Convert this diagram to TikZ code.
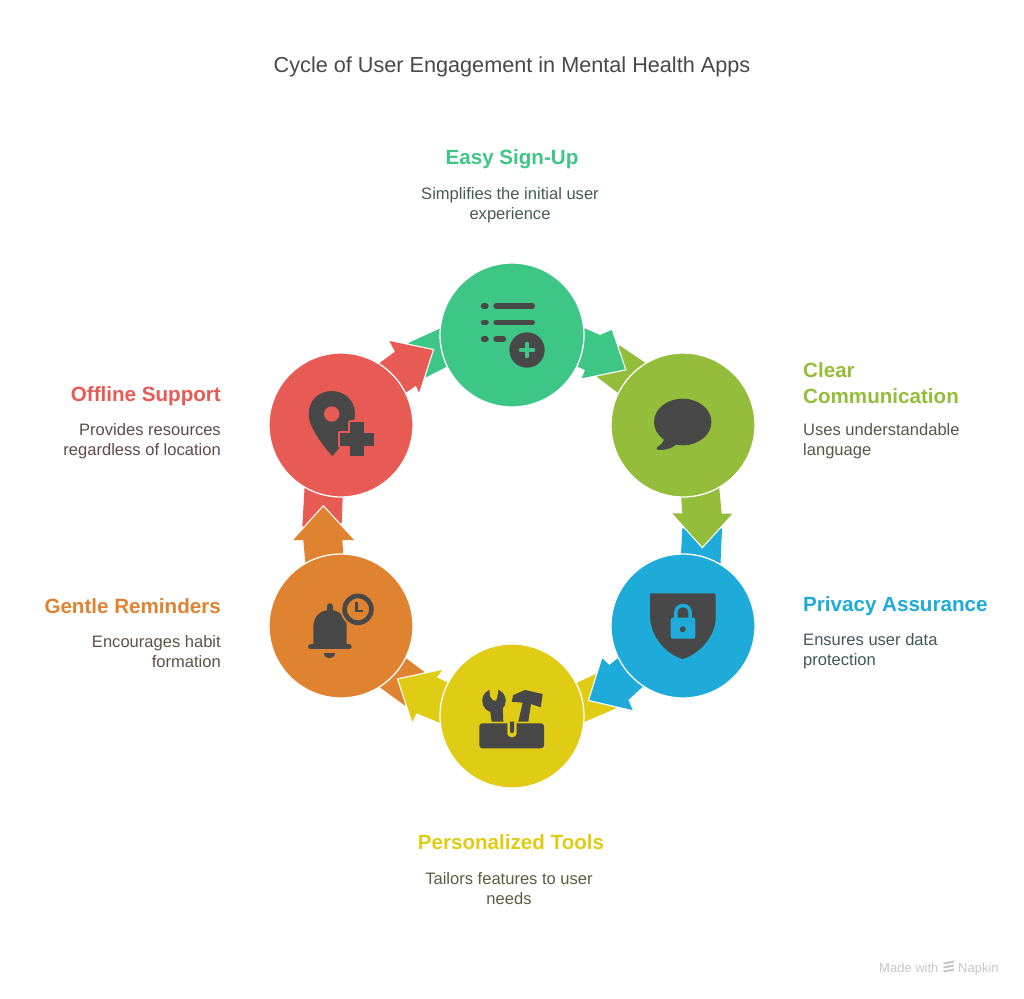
\documentclass[tikz,border=0pt]{standalone}
\usepackage{fontspec}
\setmainfont{Liberation Sans}
\usetikzlibrary{shapes.geometric, positioning}

\definecolor{signupgreen}{HTML}{3EC686}
\definecolor{clearolive}{HTML}{93BD3A}
\definecolor{privacyblue}{HTML}{1EABDA}
\definecolor{toolyellow}{HTML}{E0CB15}
\definecolor{reminderorange}{HTML}{E08330}
\definecolor{offlinered}{HTML}{E85A54}
\definecolor{icondark}{HTML}{484848}

\begin{document}
\begin{tikzpicture}[
    x=1pt, y=-1pt,
    stage/.style={circle, draw=white, line width=1.3pt, inner sep=0pt, minimum size=144pt},
    headshape/.style={preaction={draw=white, line width=2.4pt}},
    heading/.style={font=\bfseries\fontsize{20.6}{26}\selectfont, align=center},
    bodytext/.style={font=\fontsize{16.55}{20}\selectfont, align=center},
    titletext/.style={font=\fontsize{21.65}{26}\selectfont, text=icondark},
    credit/.style={font=\fontsize{13}{14}\selectfont, text=black!22, inner sep=0pt}
  ]

  \useasboundingbox[fill=white] (0,0) rectangle (1024,998);

  \node[titletext] (main_title) at (512,67.2) {Cycle of User Engagement in Mental Health Apps};

  % Band tails
  \fill[signupgreen] (408.3,343) -- (450,324) -- (456,362) -- (426,377.3) -- cycle;
  \fill[clearolive] (620,345.7) -- (650,366) -- (622,396) -- (596.7,376.7) -- cycle;
  \fill[privacyblue] (682.3,528.3) -- (680,575) -- (720,575) -- (722,528.3) -- cycle;
  \fill[toolyellow] (595.7,674) -- (570,686) -- (575,726) -- (616,708.3) -- cycle;
  \fill[reminderorange] (395,650) -- (424,671.7) -- (405,705.7) -- (370,680) -- cycle;
  \fill[offlinered] (305,480) -- (343.3,480) -- (341.7,523.3) -- (302.3,526.7) -- cycle;

  % Arrow heads
  \fill[headshape, signupgreen] (570,322) -- (600,335) -- (611.7,330) -- (625,369.3) -- (581.7,378.3) -- (585,370) -- (565,361) -- cycle;
  \fill[headshape, clearolive] (718,475) -- (721.7,513.7) -- (732.3,513.7) -- (702.3,546.7) -- (672.3,513.3) -- (682.3,513.3) -- (680,480) -- cycle;
  \fill[headshape, privacyblue] (628,650) -- (609.3,665) -- (602.3,658.3) -- (589.3,700) -- (632.7,710) -- (628.3,700) -- (650,680) -- cycle;
  \fill[headshape, toolyellow] (455,686) -- (436.7,677.3) -- (442.3,670) -- (398.3,679.3) -- (412.3,721.7) -- (416.7,713.3) -- (450,727) -- cycle;
  \fill[headshape, reminderorange] (344,565) -- (342.3,540) -- (354,540) -- (323.3,506.7) -- (293.3,540) -- (303.3,540) -- (306,570) -- cycle;
  \fill[headshape, offlinered] (370,370) -- (395,351.7) -- (389.3,341) -- (432.7,350) -- (419,392.7) -- (416,385.7) -- (395,400) -- cycle;

  % Stages
  \node[stage, fill=signupgreen] (signup) at (512,335) {};
  \node[stage, fill=clearolive] (clear) at (683,425) {};
  \node[stage, fill=privacyblue] (privacy) at (683,626) {};
  \node[stage, fill=toolyellow] (tools) at (512,716) {};
  \node[stage, fill=reminderorange] (reminders) at (341,626) {};
  \node[stage, fill=offlinered] (offline) at (341,425) {};

  % List icon
  \foreach \y in {306,322.3,339} {
      \draw[icondark, line width=5.3pt, line cap=round] (483.5,\y) -- (486,\y);
    }
  \foreach \y in {306,322.3} {
      \draw[icondark, line width=5.3pt, line cap=round] (496,\y) -- (532.3,\y);
    }
  \draw[icondark, line width=5.3pt, line cap=round] (496,339) -- (503.5,339);
  \fill[icondark] (527,350) circle[radius=17.7];
  \draw[signupgreen, line width=4.6pt, line cap=round] (521,350) -- (533,350);
  \draw[signupgreen, line width=4.6pt, line cap=round] (527,344) -- (527,356);

  % Pin icon
  \fill[icondark] (332.3,456) .. controls (325,448) and (308.5,428) .. (308.7,414)
    .. controls (308.7,400) and (319,391) .. (331.7,391)
    .. controls (344,391) and (355,400) .. (355,414)
    .. controls (355,428) and (340,448) .. (332.3,456) -- cycle;
  \fill[offlinered] (331.7,414) circle[radius=7.7];
  \filldraw[offlinered, line width=5pt, line join=round] (350.5,422.5) -- (363,422.5) -- (363,433) -- (373.5,433) -- (373.5,445) -- (363,445) -- (363,455.5) -- (350.5,455.5) -- (350.5,445) -- (340,445) -- (340,433) -- (350.5,433) -- cycle;
  \filldraw[icondark, line width=1pt, line join=round] (350.5,422.5) -- (363,422.5) -- (363,433) -- (373.5,433) -- (373.5,445) -- (363,445) -- (363,455.5) -- (350.5,455.5) -- (350.5,445) -- (340,445) -- (340,433) -- (350.5,433) -- cycle;

  % Speech bubble icon
  \fill[icondark] (682.7,422) ellipse[x radius=28.7, y radius=23.3];
  \fill[icondark] (664,438) .. controls (664,443) and (660,445) .. (657.5,447)
    .. controls (655.5,449) and (657,450) .. (660,450)
    .. controls (667,450) and (672,448) .. (677,444) -- cycle;

  % Shield icon
  \fill[icondark, rounded corners=2pt] (650,593.3) -- (715.7,593.3) -- (715.7,615) [sharp corners]
    .. controls (715.7,638) and (697,655) .. (682.7,659)
    .. controls (668,655) and (650,638) .. (650,615) -- cycle;
  \draw[privacyblue, line width=3.5pt] (675.8,620) -- (675.8,613) .. controls (675.8,603) and (690.2,603) .. (690.2,613) -- (690.2,620);
  \fill[privacyblue, rounded corners=1.5pt] (670.7,617.7) rectangle (695.3,638.7);
  \fill[icondark] (682.7,629.3) circle[radius=3];

  % Toolbox icon
  \fill[icondark, rounded corners=3pt] (479.3,723.3) rectangle (544,748.3);
  \fill[toolyellow] (507.3,722) -- (507.3,732.5) .. controls (507.3,739) and (516.7,739) .. (516.7,732.5) -- (516.7,722) -- cycle;
  \fill[icondark] (510,721.5) -- (510,730.5) .. controls (510,734) and (514,734) .. (514,730.5) -- (514,721.5) -- cycle;
  \fill[icondark] (494,700.7) circle[radius=11.8];
  \fill[toolyellow] (489.3,687) -- (498.8,687) -- (497.3,696.7) -- (496,700.7) -- (492.7,700) -- (490,696) -- cycle;
  \fill[icondark] (491.7,721.7) -- (490,710) -- (502.7,708) -- (503.3,721.7) -- cycle;
  \fill[icondark] (511.7,701.7) -- (513.3,695) -- (525,690) -- (542.7,694) -- (540.7,707.3) -- (531,704) -- (528.3,721.7) -- (518.3,721.7) -- (522.7,702.7) -- cycle;

  % Bell icon
  \draw[icondark, line width=6pt, line cap=round] (329.7,606.3) -- (329.7,612);
  \fill[icondark] (313.3,645) -- (313.3,627) .. controls (313.3,616) and (321,610) .. (329.7,610)
    .. controls (338.5,610) and (346.7,616) .. (346.7,627) -- (346.7,645) -- cycle;
  \draw[icondark, line width=5.3pt, line cap=round] (310.7,646.7) -- (349,646.7);
  \fill[icondark] (324.4,653) .. controls (324.4,660) and (335,660) .. (335,653) -- cycle;
  \fill[reminderorange] (358,609.3) circle[radius=17.5];
  \draw[icondark, line width=4.7pt] (358,609.3) circle[radius=13.4];
  \draw[icondark, line width=2.6pt] (356.7,602) -- (356.7,611) -- (363,611);

  % Stage labels
  \node[heading, text=signupgreen] (signup_title) at (512,159.7) {Easy Sign-Up};
  \node[bodytext, text=signupgreen!15!icondark] (signup_text) at (510,205) {Simplifies the initial user\\experience};

  \node[heading, text=clearolive, align=left, anchor=west, inner sep=0pt] (clear_title) at (803,382.7) {Clear\\Communication};
  \node[bodytext, text=clearolive!15!icondark, align=left, anchor=west, inner sep=0pt] (clear_text) at (803,441.5) {Uses understandable\\language};

  \node[heading, text=privacyblue, anchor=west, inner sep=0pt] (privacy_title) at (803,605.7) {Privacy Assurance};
  \node[bodytext, text=privacyblue!15!icondark, align=left, anchor=west, inner sep=0pt] (privacy_text) at (803,651.5) {Ensures user data\\protection};

  \node[heading, text=toolyellow] (tools_title) at (511,841.7) {Personalized Tools};
  \node[bodytext, text=toolyellow!15!icondark] (tools_text) at (509,888.5) {Tailors features to user\\needs};

  \node[heading, text=reminderorange, anchor=east, inner sep=0pt] (reminders_title) at (221,605.7) {Gentle Reminders};
  \node[bodytext, text=reminderorange!15!icondark, align=right, anchor=east, inner sep=0pt] (reminders_text) at (221,651.5) {Encourages habit\\formation};

  \node[heading, text=offlinered, anchor=east, inner sep=0pt] (offline_title) at (221,395.7) {Offline Support};
  \node[bodytext, text=offlinered!15!icondark, align=right, anchor=east, inner sep=0pt] (offline_text) at (221,441.5) {Provides resources\\regardless of location};

  % Credit
  \node[credit, anchor=base west] (made_with) at (879,972.5) {Made with};
  \node[credit, anchor=base west] (napkin) at (958,972.5) {Napkin};
  \foreach \y in {963.5,967.5,971.5} {
      \draw[black!22, line width=2pt] (943.5,\y) -- (954,\y-2);
    }

\end{tikzpicture}
\end{document}
